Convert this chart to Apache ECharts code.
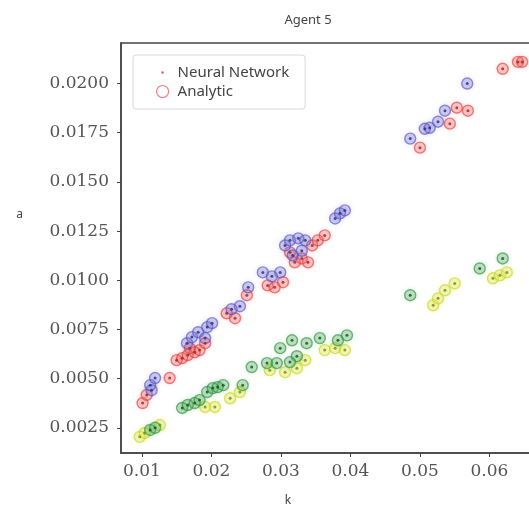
<!DOCTYPE html>
<html>
<head>
<meta charset="utf-8">
<script src="https://cdn.jsdelivr.net/npm/echarts@6/dist/echarts.min.js"></script>
<style>
  html, body { margin: 0; padding: 0; background: #fff; }
  #chart { width: 529px; height: 510px; }
</style>
</head>
<body>
<div id="chart"></div>
<script>
// values, one pair of arrays per colour group
var kRed = [0.0101, 0.0107, 0.0140, 0.0150, 0.0158, 0.0166, 0.0176, 0.0183, 0.0169, 0.0191,
            0.0222, 0.0234, 0.0251, 0.0281, 0.0291, 0.0303, 0.0320, 0.0330, 0.0339, 0.0345,
            0.0353, 0.0363, 0.0313, 0.0500, 0.0543, 0.0553, 0.0569, 0.0619, 0.0641, 0.0647];
var aRed = [0.00376, 0.00417, 0.00503, 0.00594, 0.00604, 0.00620, 0.00634, 0.00645, 0.00655, 0.00680,
            0.00832, 0.00807, 0.00924, 0.00974, 0.00964, 0.00990, 0.01091, 0.01111, 0.01091, 0.01177,
            0.01203, 0.01228, 0.01142, 0.01674, 0.01796, 0.01877, 0.01862, 0.02075, 0.02110, 0.02110];

var kBlue = [0.0112, 0.0119, 0.0114, 0.0165, 0.0172, 0.0181, 0.0194, 0.0201, 0.0191, 0.0229,
             0.0241, 0.0253, 0.0274, 0.0287, 0.0299, 0.0306, 0.0313, 0.0325, 0.0330, 0.0317,
             0.0335, 0.0378, 0.0385, 0.0392, 0.0486, 0.0507, 0.0514, 0.0526, 0.0536, 0.0568];
var aBlue = [0.00467, 0.00503, 0.00441, 0.00680, 0.00711, 0.00736, 0.00762, 0.00782, 0.00706, 0.00853,
             0.00868, 0.00964, 0.01040, 0.01020, 0.01040, 0.01177, 0.01203, 0.01213, 0.01150, 0.01126,
             0.01203, 0.01314, 0.01340, 0.01355, 0.01720, 0.01770, 0.01775, 0.01806, 0.01862, 0.02000];

var kGreen = [0.0112, 0.0119, 0.0158, 0.0166, 0.0176, 0.0183, 0.0194, 0.0202, 0.0209, 0.0217,
              0.0245, 0.0258, 0.0280, 0.0294, 0.0299, 0.0316, 0.0313, 0.0337, 0.0356, 0.0382,
              0.0395, 0.0486, 0.0586, 0.0619, 0.0323];
var aGreen = [0.00239, 0.00250, 0.00351, 0.00366, 0.00376, 0.00391, 0.00432, 0.00452, 0.00457, 0.00467,
              0.00467, 0.00559, 0.00579, 0.00579, 0.00655, 0.00695, 0.00584, 0.00680, 0.00706, 0.00695,
              0.00720, 0.00924, 0.01060, 0.01111, 0.00614];

var kYellow = [0.0097, 0.0104, 0.0126, 0.0191, 0.0205, 0.0227, 0.0241, 0.0284, 0.0306, 0.0323,
               0.0363, 0.0378, 0.0392, 0.0519, 0.0526, 0.0536, 0.0550, 0.0605, 0.0615, 0.0625, 0.0335];
var aYellow = [0.00204, 0.00224, 0.00264, 0.00356, 0.00356, 0.00400, 0.00432, 0.00543, 0.00533, 0.00553,
               0.00645, 0.00655, 0.00645, 0.00873, 0.00908, 0.00949, 0.00984, 0.01010, 0.01025, 0.01040, 0.00594];

var kTicks = [0.01, 0.02, 0.03, 0.04, 0.05, 0.06];
var aTicks = [0.0025, 0.0050, 0.0075, 0.0100, 0.0125, 0.0150, 0.0175, 0.0200];

// ring colour, fill colour, dot colour
var groups = [
    { k: kYellow, a: aYellow, ring: 'rgba(200,212,30,0.8)', fill: 'rgba(220,232,70,0.40)', dot: '#7f8316' },
    { k: kGreen, a: aGreen, ring: 'rgba(40,145,60,0.8)', fill: 'rgba(70,170,80,0.35)', dot: '#1a4a24' },
    { k: kRed, a: aRed, ring: 'rgba(230,60,60,0.8)', fill: 'rgba(240,95,95,0.35)', dot: '#9c2222' },
    { k: kBlue, a: aBlue, ring: 'rgba(85,85,195,0.8)', fill: 'rgba(110,105,210,0.35)', dot: '#272d78' }
];

function pairs(ks, as) {
    var out = [];
    for (var i = 0; i < ks.length; i++) {
        out.push([ks[i], as[i]]);
    }
    return out;
}

var series = [];
for (var g = 0; g < groups.length; g++) {
    series.push({
        name: 'Analytic',
        type: 'scatter',
        data: pairs(groups[g].k, groups[g].a),
        symbol: 'circle',
        symbolSize: 11,
        itemStyle: {
            color: groups[g].fill,
            borderColor: groups[g].ring,
            borderWidth: 1.4,
            shadowBlur: 4,
            shadowColor: groups[g].fill
        },
        z: 2
    });
}
for (var g = 0; g < groups.length; g++) {
    series.push({
        name: 'Neural Network',
        type: 'scatter',
        data: pairs(groups[g].k, groups[g].a),
        symbol: 'circle',
        symbolSize: 3,
        itemStyle: { color: groups[g].dot },
        z: 3
    });
}

var legendRed = { ring: 'rgba(230,70,70,0.85)', fill: 'rgba(255,255,255,0)', dot: '#e03030' };

var chart = echarts.init(document.getElementById('chart'));

var option = {
    animation: false,
    backgroundColor: '#fff',
    title: {
        text: 'Agent 5',
        left: 303,
        top: 9,
        textAlign: 'center',
        textStyle: { fontFamily: 'Noto Sans', fontSize: 13, fontWeight: 'normal', color: '#444' }
    },
    legend: {
        orient: 'vertical',
        left: 133,
        top: 55,
        padding: [10, 16, 10, 23],
        itemGap: 4,
        itemWidth: 12,
        itemHeight: 12,
        backgroundColor: '#fff',
        borderColor: '#d8d8d8',
        borderWidth: 1,
        borderRadius: 3,
        textStyle: { fontFamily: 'Noto Sans', fontSize: 15, color: '#444', padding: [0, 0, 0, 4] },
        data: [
            { name: 'Neural Network',
              icon: 'path://M0,0M12,12M4.8,6a1.2,1.2,0,1,0,2.4,0a1.2,1.2,0,1,0,-2.4,0z',
              itemStyle: { color: legendRed.dot, borderWidth: 0, shadowBlur: 0 } },
            { name: 'Analytic', icon: 'circle',
              itemStyle: { color: legendRed.fill, borderColor: legendRed.ring, borderWidth: 1.2, shadowBlur: 0 } }
        ]
    },
    grid: {
        left: 121,
        top: 43,
        width: 438,
        height: 410,
        outerBoundsMode: 'none',
        containLabel: false,
        show: true,
        borderColor: '#444',
        borderWidth: 1.5,
        backgroundColor: '#fff'
    },
    xAxis: {
        type: 'value',
        min: 0.007,
        max: 0.070,
        name: 'k',
        nameLocation: 'middle',
        nameGap: 42,
        nameTextStyle: { fontFamily: 'Noto Sans', fontSize: 12, color: '#444', padding: [0, 104, 0, 0] },
        splitLine: { show: false },
        axisLine: { show: true, onZero: false, lineStyle: { color: '#444', width: 1.5 } },
        axisTick: { show: true, length: 4, customValues: kTicks, lineStyle: { color: '#444' } },
        axisLabel: {
            customValues: kTicks,
            margin: 10,
            fontFamily: 'DejaVu Serif',
            fontSize: 17,
            color: '#555',
            formatter: function(v) { return v.toFixed(2); }
        }
    },
    yAxis: {
        type: 'value',
        min: 0.00122,
        max: 0.02206,
        // the label sits above the middle of the axis in the picture
        name: '{t|a}',
        nameLocation: 'middle',
        nameRotate: 0,
        nameGap: 98,
        nameTextStyle: {
            fontFamily: 'Noto Sans', fontSize: 12, color: '#444',
            rich: { t: { fontFamily: 'Noto Sans', fontSize: 12, color: '#444', padding: [0, 0, 66, 0] } }
        },
        splitLine: { show: false },
        axisLine: { show: true, onZero: false, lineStyle: { color: '#444', width: 1.5 } },
        axisTick: { show: true, length: 4, customValues: aTicks, lineStyle: { color: '#444' } },
        axisLabel: {
            customValues: aTicks,
            margin: 12,
            fontFamily: 'DejaVu Serif',
            fontSize: 17,
            color: '#555',
            formatter: function(v) { return v.toFixed(4); }
        }
    },
    series: series
};

chart.setOption(option);
</script>
</body>
</html>
